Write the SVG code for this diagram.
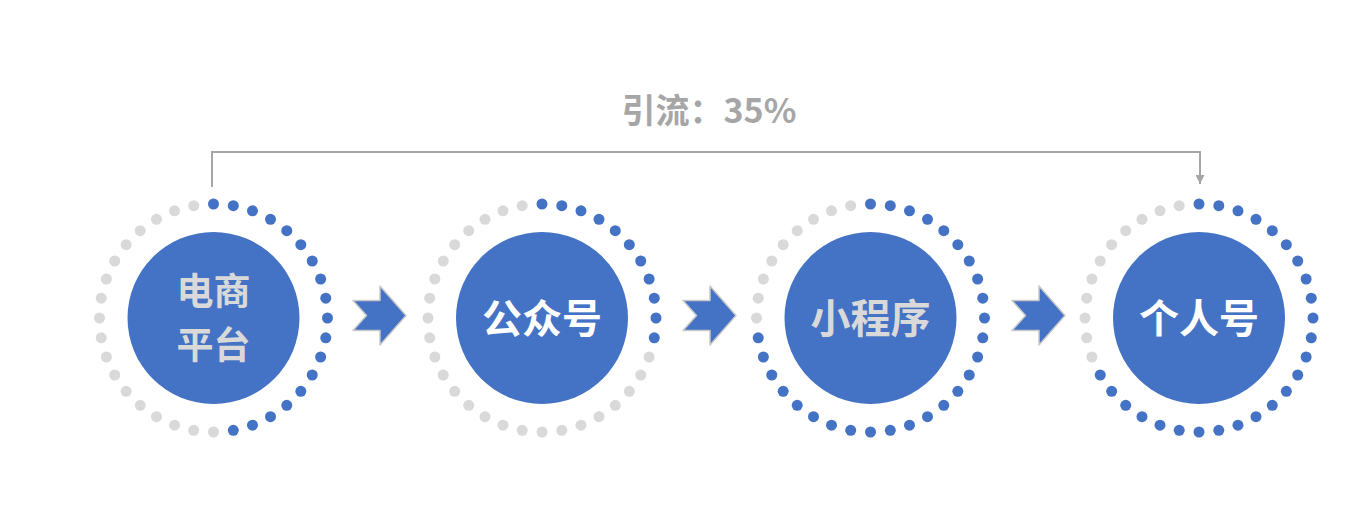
<svg xmlns="http://www.w3.org/2000/svg" width="1372" height="506" viewBox="0 0 1372 506">
<style>
.core{fill:#4472c4}
.b{fill:#4472c4}
.g{fill:#d9d9d9}
.lbl{font-family:"Noto Sans CJK SC","Noto Sans",sans-serif;font-weight:bold;font-size:40px;text-anchor:middle}
.two{font-size:37px}
.lt{fill:#d9d9d9}
.wt{fill:#ffffff}
.step{fill:#4472c4;stroke:#c9c9c9;stroke-width:1.5;stroke-linejoin:round}
.conn{fill:none;stroke:#a6a6a6;stroke-width:2}
.note{font-family:"Noto Sans CJK SC","Noto Sans",sans-serif;font-weight:bold;font-size:34px;fill:#a6a6a6;text-anchor:middle}
</style>
<defs>
<marker id="ah" viewBox="0 0 10 10" refX="10" refY="5" markerWidth="9" markerHeight="9" markerUnits="userSpaceOnUse" orient="auto">
<path d="M0,0 L10,5 L0,10 z" fill="#a6a6a6"/>
</marker>
<circle id="p0" cx="0" cy="-114" r="5.5"/>
<circle id="p1" cx="19.8" cy="-112.27" r="5.5"/>
<circle id="p2" cx="38.99" cy="-107.13" r="5.5"/>
<circle id="p3" cx="57" cy="-98.73" r="5.5"/>
<circle id="p4" cx="73.28" cy="-87.33" r="5.5"/>
<circle id="p5" cx="87.33" cy="-73.28" r="5.5"/>
<circle id="p6" cx="98.73" cy="-57" r="5.5"/>
<circle id="p7" cx="107.13" cy="-38.99" r="5.5"/>
<circle id="p8" cx="112.27" cy="-19.8" r="5.5"/>
<circle id="p9" cx="114" cy="0" r="5.5"/>
<circle id="p10" cx="112.27" cy="19.8" r="5.5"/>
<circle id="p11" cx="107.13" cy="38.99" r="5.5"/>
<circle id="p12" cx="98.73" cy="57" r="5.5"/>
<circle id="p13" cx="87.33" cy="73.28" r="5.5"/>
<circle id="p14" cx="73.28" cy="87.33" r="5.5"/>
<circle id="p15" cx="57" cy="98.73" r="5.5"/>
<circle id="p16" cx="38.99" cy="107.13" r="5.5"/>
<circle id="p17" cx="19.8" cy="112.27" r="5.5"/>
<circle id="p18" cx="0" cy="114" r="5.5"/>
<circle id="p19" cx="-19.8" cy="112.27" r="5.5"/>
<circle id="p20" cx="-38.99" cy="107.13" r="5.5"/>
<circle id="p21" cx="-57" cy="98.73" r="5.5"/>
<circle id="p22" cx="-73.28" cy="87.33" r="5.5"/>
<circle id="p23" cx="-87.33" cy="73.28" r="5.5"/>
<circle id="p24" cx="-98.73" cy="57" r="5.5"/>
<circle id="p25" cx="-107.13" cy="38.99" r="5.5"/>
<circle id="p26" cx="-112.27" cy="19.8" r="5.5"/>
<circle id="p27" cx="-114" cy="0" r="5.5"/>
<circle id="p28" cx="-112.27" cy="-19.8" r="5.5"/>
<circle id="p29" cx="-107.13" cy="-38.99" r="5.5"/>
<circle id="p30" cx="-98.73" cy="-57" r="5.5"/>
<circle id="p31" cx="-87.33" cy="-73.28" r="5.5"/>
<circle id="p32" cx="-73.28" cy="-87.33" r="5.5"/>
<circle id="p33" cx="-57" cy="-98.73" r="5.5"/>
<circle id="p34" cx="-38.99" cy="-107.13" r="5.5"/>
<circle id="p35" cx="-19.8" cy="-112.27" r="5.5"/>
<polygon id="chev" points="0,-15 27,-15 27,-29.5 53,0 27,29.5 27,15 0,15 13.5,0"/>
</defs>
<rect width="1372" height="506" fill="#ffffff"/>

<g id="connectors">
<path class="conn" d="M212 187 V152 H1200 V184" marker-end="url(#ah)"/>
<text class="note" x="709" y="123">引流：35%</text>
<use href="#chev" class="step" x="353" y="315.5"/>
<use href="#chev" class="step" x="683" y="315.5"/>
<use href="#chev" class="step" x="1012" y="315.5"/>
</g>

<g id="node-1" transform="translate(213.5,318)">
<g class="b" fill="#4472c4"><use href="#p0"/><use href="#p1"/><use href="#p2"/><use href="#p3"/><use href="#p4"/><use href="#p5"/><use href="#p6"/><use href="#p7"/><use href="#p8"/><use href="#p9"/><use href="#p10"/><use href="#p11"/><use href="#p12"/><use href="#p13"/><use href="#p14"/><use href="#p15"/><use href="#p16"/><use href="#p17"/></g>
<g class="g" fill="#d9d9d9"><use href="#p18"/><use href="#p19"/><use href="#p20"/><use href="#p21"/><use href="#p22"/><use href="#p23"/><use href="#p24"/><use href="#p25"/><use href="#p26"/><use href="#p27"/><use href="#p28"/><use href="#p29"/><use href="#p30"/><use href="#p31"/><use href="#p32"/><use href="#p33"/><use href="#p34"/><use href="#p35"/></g>
<circle class="core" r="86"/>
<text class="lbl two lt" x="0" y="-13">电商<tspan x="0" dy="54">平台</tspan></text>
</g>

<g id="node-2" transform="translate(542,318)">
<g class="b" fill="#4472c4"><use href="#p0"/><use href="#p1"/><use href="#p2"/><use href="#p3"/><use href="#p4"/><use href="#p5"/><use href="#p6"/><use href="#p7"/><use href="#p8"/><use href="#p9"/><use href="#p10"/></g>
<g class="g" fill="#d9d9d9"><use href="#p11"/><use href="#p12"/><use href="#p13"/><use href="#p14"/><use href="#p15"/><use href="#p16"/><use href="#p17"/><use href="#p18"/><use href="#p19"/><use href="#p20"/><use href="#p21"/><use href="#p22"/><use href="#p23"/><use href="#p24"/><use href="#p25"/><use href="#p26"/><use href="#p27"/><use href="#p28"/><use href="#p29"/><use href="#p30"/><use href="#p31"/><use href="#p32"/><use href="#p33"/><use href="#p34"/><use href="#p35"/></g>
<circle class="core" r="86"/>
<text class="lbl wt" x="0" y="15">公众号</text>
</g>

<g id="node-3" transform="translate(870.5,318)">
<g class="b" fill="#4472c4"><use href="#p0"/><use href="#p1"/><use href="#p2"/><use href="#p3"/><use href="#p4"/><use href="#p5"/><use href="#p6"/><use href="#p7"/><use href="#p8"/><use href="#p9"/><use href="#p10"/><use href="#p11"/><use href="#p12"/><use href="#p13"/><use href="#p14"/><use href="#p15"/><use href="#p16"/><use href="#p17"/><use href="#p18"/><use href="#p19"/><use href="#p20"/><use href="#p21"/><use href="#p22"/><use href="#p23"/><use href="#p24"/><use href="#p25"/><use href="#p26"/></g>
<g class="g" fill="#d9d9d9"><use href="#p27"/><use href="#p28"/><use href="#p29"/><use href="#p30"/><use href="#p31"/><use href="#p32"/><use href="#p33"/><use href="#p34"/><use href="#p35"/></g>
<circle class="core" r="86"/>
<text class="lbl lt" x="0" y="15">小程序</text>
</g>

<g id="node-4" transform="translate(1199,318)">
<g class="b" fill="#4472c4"><use href="#p0"/><use href="#p1"/><use href="#p2"/><use href="#p3"/><use href="#p4"/><use href="#p5"/><use href="#p6"/><use href="#p7"/><use href="#p8"/><use href="#p9"/><use href="#p10"/><use href="#p11"/><use href="#p12"/><use href="#p13"/><use href="#p14"/><use href="#p15"/><use href="#p16"/><use href="#p17"/><use href="#p18"/><use href="#p19"/><use href="#p20"/><use href="#p21"/><use href="#p22"/><use href="#p23"/><use href="#p24"/></g>
<g class="g" fill="#d9d9d9"><use href="#p25"/><use href="#p26"/><use href="#p27"/><use href="#p28"/><use href="#p29"/><use href="#p30"/><use href="#p31"/><use href="#p32"/><use href="#p33"/><use href="#p34"/><use href="#p35"/></g>
<circle class="core" r="86"/>
<text class="lbl wt" x="0" y="15">个人号</text>
</g>
</svg>
